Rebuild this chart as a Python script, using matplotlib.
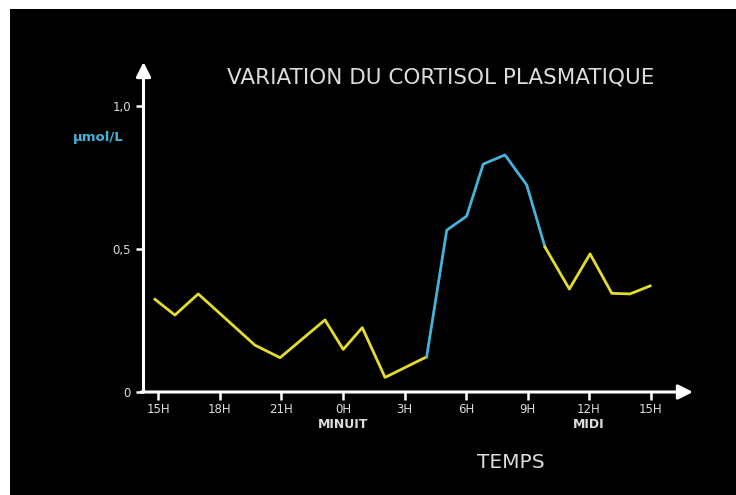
import matplotlib.pyplot as plt
from matplotlib.patches import Rectangle

# hours elapsed since 15H on day 1, and plasma cortisol (umol/L)
hours = [-0.17, 0.8, 1.94, 4.7, 5.93, 8.12, 9.01, 9.94, 11.05, 13.08, 14.06,
         15.03, 15.84, 16.9, 17.96, 18.85, 20.04, 21.05, 22.11, 23.0, 23.98]
cortisol = [0.324, 0.269, 0.343, 0.164, 0.120, 0.252, 0.149, 0.225, 0.051,
            0.123, 0.566, 0.615, 0.797, 0.829, 0.724, 0.507, 0.360, 0.483,
            0.345, 0.343, 0.371]
# peak section drawn in blue, from index peak_start to peak_end
peak_start, peak_end = 9, 15

tick_hours = [0, 3, 6, 9, 12, 15, 18, 21, 24]
tick_labels = ['15H', '18H', '21H', '0H', '3H', '6H', '9H', '12H', '15H']
y_ticks = [0, 0.5, 1.0]
y_labels = ['0', '0,5', '1,0']

yellow = '#e4dc2c'
blue = '#45b2da'
grey = '#dcdcdc'

W, H = 736, 495
fig = plt.figure(figsize=(W / 100, H / 100), dpi=100, facecolor='white')
fig.patches.append(Rectangle((10 / W, 0), 1, (H - 9) / H, transform=fig.transFigure,
                             facecolor='black', edgecolor='none', zorder=-10))

ax = fig.add_axes([143.5 / W, (H - 392) / H, (693 - 143.5) / W, (392 - 62) / H])
ax.set_facecolor('none')
ax.set_xlim(-0.73, 26.07)
ax.set_ylim(0, 1.154)
for s in ax.spines.values():
    s.set_visible(False)

# axes with arrow heads
arrow = dict(arrowstyle='-|>', color='white', lw=2.2, mutation_scale=22, shrinkA=0, shrinkB=0)
ax.annotate('', xy=(0, 1), xytext=(0, 0), xycoords='axes fraction', arrowprops=arrow)
ax.annotate('', xy=(1, 0), xytext=(-0.004, 0), xycoords='axes fraction', arrowprops=arrow)

ax.plot(hours[:peak_start + 1], cortisol[:peak_start + 1], color=yellow, lw=2)
ax.plot(hours[peak_start:peak_end + 1], cortisol[peak_start:peak_end + 1], color=blue, lw=2)
ax.plot(hours[peak_end:], cortisol[peak_end:], color=yellow, lw=2)

ax.set_xticks(tick_hours)
ax.set_xticklabels(tick_labels)
ax.set_yticks(y_ticks)
ax.set_yticklabels(y_labels)
ax.tick_params(colors='white', width=1.8, length=6, labelcolor=grey, labelsize=8.5)
ax.tick_params(axis='x', pad=2)
ax.tick_params(axis='y', pad=3)

ax.text(9, -0.112, 'MINUIT', ha='center', va='center',
        color=grey, fontsize=9, fontweight='bold', clip_on=False)
ax.text(21, -0.112, 'MIDI', ha='center', va='center',
        color=grey, fontsize=9, fontweight='bold', clip_on=False)

fig.text(441 / W, 1 - 77 / H, 'VARIATION DU CORTISOL PLASMATIQUE', ha='center', va='center',
         color=grey, fontsize=15.5)
fig.text(98 / W, 1 - 138 / H, 'µmol/L', ha='center', va='center', color=blue,
         fontsize=9.5, fontweight='bold')
fig.text(511 / W, 1 - 463 / H, 'TEMPS', ha='center', va='center', color=grey, fontsize=14.5)

fig.savefig('out.png', dpi=100, facecolor='white')
